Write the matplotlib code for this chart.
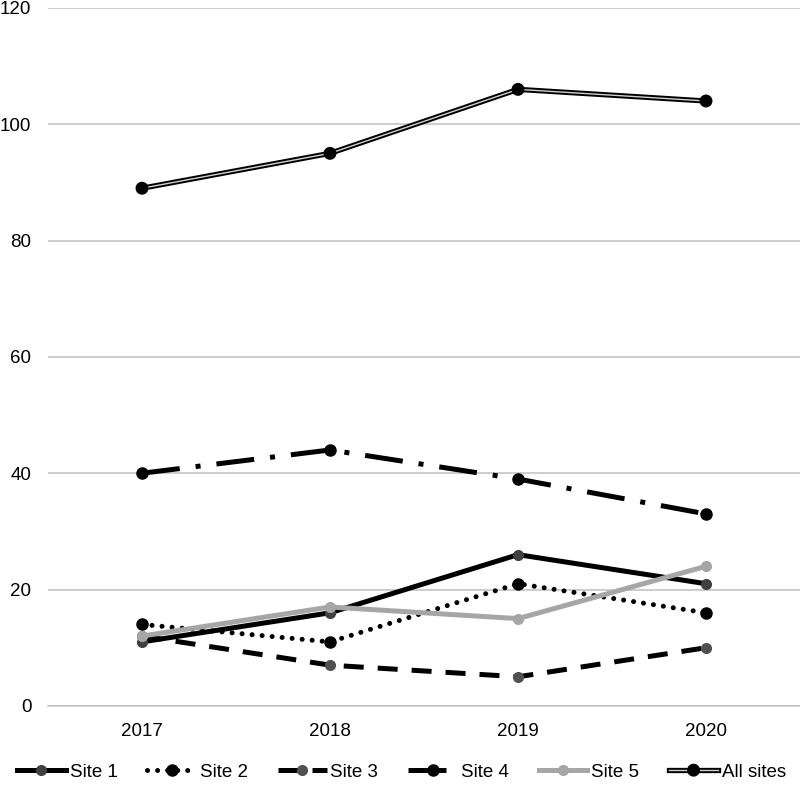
import matplotlib
matplotlib.use("Agg")
import matplotlib.pyplot as plt
import matplotlib.patheffects as pe

plt.rcParams['font.family'] = ['Liberation Sans', 'DejaVu Sans']

years = ["2017", "2018", "2019", "2020"]
site1 = [11, 16, 26, 21]
site2 = [14, 11, 21, 16]
site3 = [12, 7, 5, 10]
site4 = [40, 44, 39, 33]
site5 = [12, 17, 15, 24]
all_sites = [89, 95, 106, 104]

fig = plt.figure(figsize=(8, 7.94), dpi=100)
ax = fig.add_axes([0.06, 0.111, 0.94, 0.879])

x = range(len(years))
lw = 3.6
ms = 7

ax.plot(x, site1, color="black", lw=lw, marker="o", ms=ms,
        mfc="#404040", mec="#404040", label="Site 1")
ax.plot(x, site2, color="black", lw=lw, linestyle=(0, (0.01, 2.0)),
        dash_capstyle="round", marker="o", ms=ms + 1, mfc="black", mec="black",
        label="Site 2")
ax.plot(x, site3, color="black", lw=lw, linestyle=(0, (4, 2.8)),
        marker="o", ms=ms, mfc="#505050", mec="#505050", label="Site 3")
ax.plot(x, site4, color="black", lw=lw, linestyle=(0, (7.6, 3.2, 1, 3.2)),
        marker="o", ms=ms + 1, mfc="black", mec="black", label="Site 4")
ax.plot(x, site5, color="#a6a6a6", lw=lw, marker="o", ms=ms,
        mfc="#a6a6a6", mec="#a6a6a6", label="Site 5")
ax.plot(x, all_sites, color="#d0d0d0", lw=1.0, marker="o", ms=5.5,
        mfc="black", mec="black", label="All sites",
        path_effects=[pe.Stroke(linewidth=3.8, foreground="black"), pe.Normal()])

ax.set_xlim(-0.5, 3.5)
ax.set_ylim(0, 120)
ax.set_yticks(range(0, 121, 20))
ax.set_xticks(list(x))
ax.set_xticklabels(years)
ax.tick_params(length=0, labelsize=13.5, colors="black")
ax.tick_params(axis="x", pad=12)
ax.tick_params(axis="y", pad=12)
ax.grid(axis="y", color="#c0c0c0", lw=1.1)
ax.set_axisbelow(True)
for s in ["top", "right", "left"]:
    ax.spines[s].set_visible(False)
ax.spines["bottom"].set_color("#c0c0c0")
ax.spines["bottom"].set_linewidth(1.1)

ax.legend(loc="center", bbox_to_anchor=(0.47, -0.095), ncol=6, frameon=False,
          fontsize=13.5, handlelength=2.6, handletextpad=0.2, columnspacing=1.6)

fig.savefig("out.png", dpi=100)
